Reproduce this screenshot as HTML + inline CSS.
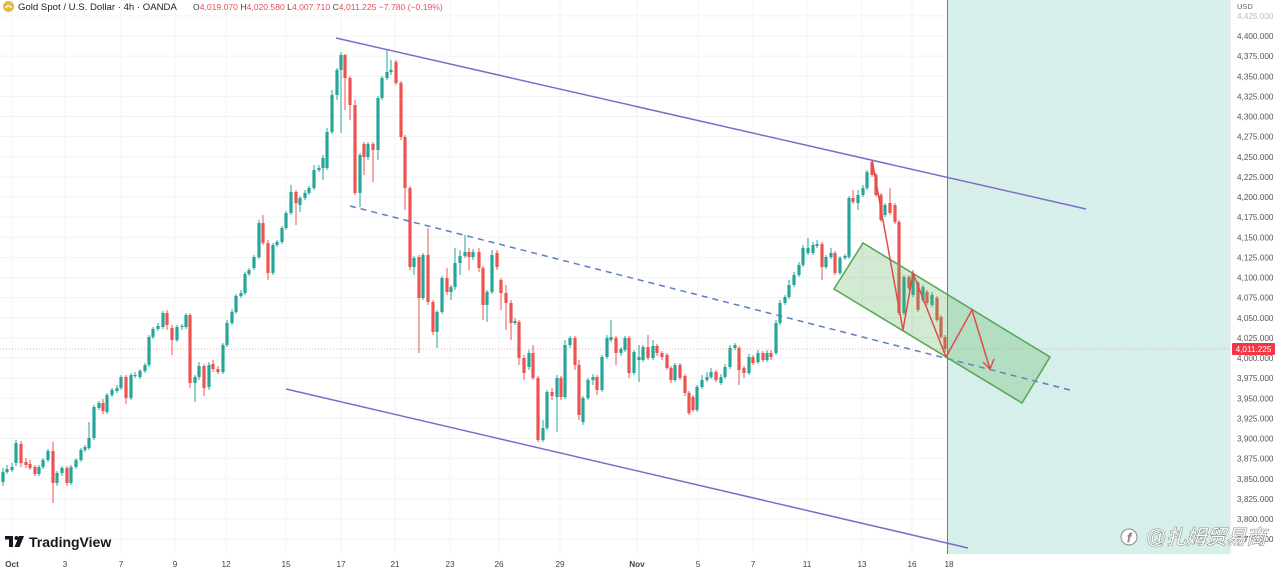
<!DOCTYPE html>
<html>
<head>
<meta charset="utf-8">
<style>
html,body{margin:0;padding:0;background:#fff;}
body{width:1280px;height:570px;overflow:hidden;}
svg{display:block;}
text{font-family:"Liberation Sans","Noto Sans CJK SC",sans-serif;}
</style>
</head>
<body>
<svg id="c" width="1280" height="570" viewBox="0 0 1280 570" xmlns="http://www.w3.org/2000/svg">
  <rect x="0" y="0" width="1280" height="570" fill="#ffffff"/>
  <g id="grid"></g>
  <!-- shaded future region -->
  <rect x="947" y="0" width="283" height="554" fill="#d7efeb"/>
  <line x1="947.5" y1="0" x2="947.5" y2="554" stroke="#2a9d8f" stroke-width="1"/>
  <!-- current price line -->
  <line x1="0" y1="349" x2="1230" y2="349" stroke="#f7a9af" stroke-width="1" stroke-dasharray="1 2"/>
  <g id="candles"></g>
  <!-- trend lines -->
  <line x1="336" y1="38" x2="1086" y2="209" stroke="#7e6bc6" stroke-width="1.5"/>
  <line x1="286" y1="389" x2="968" y2="548" stroke="#7e6bc6" stroke-width="1.5"/>
  <line x1="350" y1="206" x2="1070" y2="390" stroke="#5b7cc9" stroke-width="1.5" stroke-dasharray="6 5"/>
  <!-- green channel -->
  <polygon points="863,243 1050,357 1022,403 834,289" fill="rgba(90,180,90,0.28)" stroke="#5aa75a" stroke-width="1.6"/>
  <!-- red zigzag -->
  <polyline points="872,160 903,330 913,273 946,357 972,310 990,369" fill="none" stroke="#e04b4b" stroke-width="1.5"/>
  <polyline points="983,362 990,369 994,359" fill="none" stroke="#e04b4b" stroke-width="1.5"/>
  <!-- right axis -->
  <rect x="1230" y="0" width="50" height="570" fill="#ffffff"/>
  <line x1="1230.5" y1="0" x2="1230.5" y2="554" stroke="#eeeeee" stroke-width="1"/>
  <g id="yaxis"></g>
  <text x="1237" y="9" font-size="7.5" fill="#666">USD</text>
  <rect x="1232" y="343" width="43" height="12" rx="1" fill="#f23645"/>
  <text x="1253.5" y="352" font-size="8.2" fill="#ffffff" text-anchor="middle">4,011.225</text>
  <!-- time axis -->
  <g id="xaxis"></g>
  <!-- title -->
  <circle cx="8.5" cy="6.5" r="5.5" fill="#e8b93a"/>
  <path d="M5.5 8 Q8.5 3.5 11.5 8" fill="none" stroke="#fff" stroke-width="1.3"/>
  <text x="18" y="10" font-size="9.6" fill="#222">Gold Spot / U.S. Dollar · 4h · OANDA</text>
  <text x="193" y="10" font-size="8.6" fill="#e0505e"><tspan fill="#444">O</tspan>4,019.070 <tspan fill="#444">H</tspan>4,020.580 <tspan fill="#444">L</tspan>4,007.710 <tspan fill="#444">C</tspan>4,011.225 −7.780 (−0.19%)</text>
  <!-- TradingView logo -->
  <g transform="translate(5,536)" fill="#131722">
    <rect x="0" y="0" width="8" height="3.5"/>
    <rect x="4" y="0" width="4" height="11"/>
    <circle cx="11.5" cy="2" r="2"/>
    <polygon points="14,0 19,0 14.5,11 9.5,11"/>
  </g>
  <text x="29" y="547" font-size="14" font-weight="bold" fill="#131722">TradingView</text>
  <!-- watermark -->
  <circle cx="1129" cy="537" r="8" fill="#ffffff" stroke="#8a8a8a" stroke-width="1"/>
  <text x="1129" y="542" font-size="12" fill="#ffffff" stroke="#777" stroke-width="0.8" text-anchor="middle" font-style="italic">f</text>
  <text x="1146" y="544" font-size="20" font-family="'Liberation Sans','Noto Sans CJK SC',sans-serif" fill="#ffffff" stroke="#7a7a7a" stroke-width="1" paint-order="stroke" style="font-style:italic">@扎姆贸易商</text>
</svg>
<script>
(function(){
  var NS="http://www.w3.org/2000/svg";
  function el(tag,attrs,parent,txt){var e=document.createElementNS(NS,tag);for(var k in attrs)e.setAttribute(k,attrs[k]);if(txt!==undefined)e.textContent=txt;parent.appendChild(e);return e;}
  var grid=document.getElementById('grid');
  var yaxis=document.getElementById('yaxis');
  var xaxis=document.getElementById('xaxis');
  function py(p){return 36+(4400-p)*0.805;}
  for(var p=4425;p>=3775;p-=25){
    var y=py(p);
    el('line',{x1:0,y1:y,x2:1230,y2:y,stroke:'#f3f3f3','stroke-width':1},grid);
    var s=p.toString();s=s.charAt(0)+','+s.slice(1)+'.000';
    el('text',{x:1237,y:y+3,'font-size':8.2,fill:(p===4425?'#bbb':'#555')},yaxis,s);
  }
  var xl=[[12,'Oct'],[65,'3'],[121,'7'],[175,'9'],[226,'12'],[286,'15'],[341,'17'],[395,'21'],[450,'23'],[499,'26'],[560,'29'],[637,'Nov'],[698,'5'],[753,'7'],[807,'11'],[862,'13'],[912,'16'],[949,'18']];
  xl.forEach(function(d){
    el('line',{x1:d[0],y1:0,x2:d[0],y2:554,stroke:'#f3f3f3','stroke-width':1},grid);
    var bold=(d[1]==='Oct'||d[1]==='Nov');
    el('text',{x:d[0],y:567,'font-size':8.2,fill:'#444','text-anchor':'middle','font-weight':bold?'bold':'normal'},xaxis,d[1]);
  });
  var D=[
[3,482,472,468,486],[7,472,469,465,474],[12,470,467,463,472],[16,463,443,440,466],[21,444,463,441,467],[26,462,465,458,468],[30,464,468,460,470],[35,467,474,465,476],[39,474,467,465,476],[43,467,460,458,469],[48,460,451,449,462],[53,451,483,442,503],[57,483,473,471,486],[62,473,468,466,476],[67,468,483,466,486],[71,483,467,465,485],[76,467,460,458,469],[81,460,450,448,462],[85,450,447,445,452],[89,448,438,422,450],[94,438,407,405,440],[99,408,403,401,410],[103,403,411,399,414],[107,412,395,393,414],[112,395,390,388,397],[117,391,388,385,393],[121,388,377,375,390],[126,377,398,375,404],[131,398,375,373,400],[135,376,375,372,378],[140,377,371,369,379],[145,371,365,363,373],[149,365,337,335,367],[153,337,329,327,339],[158,329,326,323,331],[163,327,313,311,329],[167,313,325,310,330],[172,328,340,325,355],[177,340,327,325,342],[182,327,326,324,330],[186,327,315,313,329],[190,315,383,313,388],[195,383,377,375,402],[199,377,366,362,380],[204,366,388,364,396],[209,387,365,362,390],[213,364,369,360,372],[218,369,372,366,374],[223,372,345,343,374],[227,345,323,320,347],[232,323,312,309,325],[236,312,296,294,314],[241,296,293,290,298],[245,293,274,272,295],[249,274,270,268,276],[254,268,257,255,270],[259,257,223,220,259],[263,223,243,215,245],[268,243,273,240,280],[273,273,245,243,275],[277,245,242,240,247],[282,242,228,226,244],[286,228,213,211,230],[291,213,192,185,215],[296,192,203,190,225],[300,205,198,196,212],[305,198,193,190,200],[309,193,188,186,195],[314,188,170,165,190],[319,170,168,165,172],[323,168,158,155,180],[327,168,132,128,170],[332,132,95,90,134],[337,95,70,68,100],[341,70,55,52,133],[345,55,78,54,110],[350,78,105,76,120],[355,105,193,100,195],[360,193,155,153,207],[364,144,157,142,175],[368,157,144,142,160],[373,144,150,142,182],[378,150,98,96,160],[382,98,78,76,100],[387,78,72,50,80],[391,72,70,60,75],[396,62,83,60,85],[401,83,137,81,140],[405,137,188,135,210],[410,188,267,186,270],[414,267,258,256,275],[419,257,298,255,353],[423,298,255,253,300],[428,255,302,228,305],[433,302,332,300,335],[437,332,312,310,348],[442,312,278,276,314],[447,278,292,268,295],[451,292,287,285,300],[455,287,263,248,290],[460,263,256,250,275],[465,256,252,235,258],[469,252,257,248,270],[473,257,252,249,260],[479,252,268,248,272],[483,268,305,266,320],[487,305,292,290,322],[492,292,255,250,294],[497,253,267,250,270],[501,280,293,278,310],[506,293,303,285,330],[511,303,323,300,340],[515,323,321,318,325],[519,322,358,320,365],[524,358,373,355,380],[529,367,353,350,370],[533,353,378,345,380],[538,378,440,376,442],[543,440,428,420,442],[547,428,392,390,430],[552,392,396,388,400],[557,397,378,375,432],[561,378,397,376,400],[565,397,345,340,399],[570,345,338,336,348],[575,338,365,336,370],[579,365,415,360,420],[583,422,398,396,425],[588,398,380,378,400],[593,380,377,374,385],[597,377,390,375,395],[602,390,357,355,392],[607,357,338,335,359],[611,340,337,320,342],[616,338,353,336,365],[621,353,349,347,356],[625,350,338,336,352],[629,338,373,336,378],[634,373,352,350,375],[639,360,357,345,382],[643,360,347,345,362],[648,347,358,335,360],[653,358,346,340,360],[657,346,353,344,356],[662,353,357,351,360],[667,355,368,353,370],[671,368,380,366,383],[675,380,365,363,382],[680,365,378,363,380],[685,376,393,374,396],[689,393,413,391,415],[693,397,410,395,412],[697,410,387,385,412],[702,387,380,375,389],[707,380,377,372,382],[711,377,372,368,379],[716,372,380,370,382],[721,383,377,374,385],[725,377,367,364,379],[730,367,348,345,369],[735,348,345,343,350],[739,348,370,346,385],[744,368,373,366,378],[749,373,357,354,375],[753,357,363,355,365],[758,362,353,350,364],[763,353,360,351,362],[767,360,353,350,362],[771,353,357,350,360],[776,353,323,320,355],[780,323,303,300,325],[785,303,297,295,305],[789,297,285,280,299],[794,285,275,272,287],[799,275,265,262,277],[803,265,248,245,267],[808,253,248,238,255],[813,253,245,242,255],[817,246,244,240,248],[822,244,267,242,280],[826,267,257,255,269],[831,257,253,248,259],[835,253,273,251,275],[840,273,258,256,275],[845,258,256,254,260],[849,257,198,196,259],[853,198,202,190,204],[858,203,195,190,210],[863,195,188,185,197],[867,188,172,170,190],[872,162,175,160,177],[876,175,195,173,197],[881,195,220,193,222],[885,215,205,203,217],[890,203,213,188,215],[895,205,222,203,224],[899,222,313,220,315],[904,313,277,275,315],[909,277,288,275,290],[913,295,273,270,297],[918,283,310,281,312],[923,300,287,285,302],[927,292,303,290,305],[932,305,295,292,307],[937,298,320,296,322],[941,317,337,315,339],[945,337,349,335,352]
  ];
  var cg=document.getElementById('candles');
  D.forEach(function(d){
    var x=d[0],o=d[1],c=d[2],h=d[3],l=d[4];
    var up=c<=o;
    var col=up?'#26a69a':'#ef5350';
    var top=Math.min(o,c),bot=Math.max(o,c);
    h=Math.min(h,top);l=Math.max(l,bot);
    el('line',{x1:x,y1:h,x2:x,y2:l,stroke:col,'stroke-width':1},cg);
    el('rect',{x:x-1.6,y:top,width:3.2,height:Math.max(1,bot-top),fill:col},cg);
  });
})();
</script>
</body>
</html>
